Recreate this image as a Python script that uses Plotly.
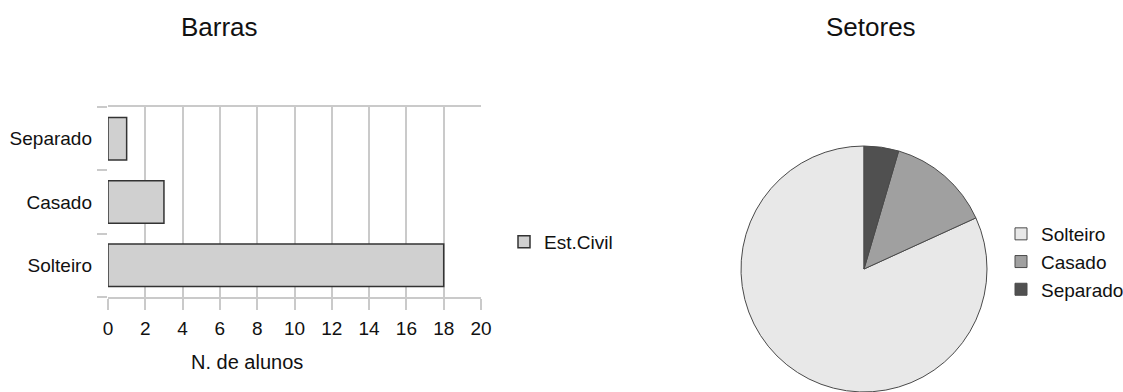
import plotly.graph_objects as go

# Estado civil dos alunos
categorias = ["Solteiro", "Casado", "Separado"]
alunos = [18, 3, 1]
x_ticks = list(range(0, 21, 2))
cores_setores = ["#e8e8e8", "#a0a0a0", "#505050"]

W, H = 1123, 392


def dom_x(left, right):
    return [left / W, right / W]


def dom_y(top, bottom):
    return [1 - bottom / H, 1 - top / H]


FONT = "Liberation Sans, Arial, sans-serif"
GRID = "#cacaca"

# Plotly lays counterclockwise pies out so that the first slice ends at the
# rotation angle; rotating by the share of the remaining slices makes the
# first slice (Solteiro) start at 12 o'clock instead.
total = sum(alunos)
rotacao = 360 * (total - alunos[0]) / total

fig = go.Figure()

fig.add_trace(go.Bar(
    y=categorias, x=alunos, orientation="h", name="Est.Civil",
    width=0.67, showlegend=True, legend="legend",
    marker=dict(color="#d0d0d0", line=dict(color="#333333", width=1.5)),
    xaxis="x", yaxis="y",
))

fig.add_trace(go.Pie(
    labels=categorias, values=alunos, sort=False,
    direction="counterclockwise", rotation=rotacao,
    textinfo="none", legend="legend2",
    marker=dict(colors=cores_setores, line=dict(color="#4a4a4a", width=1)),
    domain=dict(x=dom_x(864 - 124, 864 + 124), y=dom_y(146, 392)),
))

fig.update_layout(
    width=W, height=H,
    margin=dict(l=0, r=0, t=0, b=0, autoexpand=False),
    paper_bgcolor="white", plot_bgcolor="white",
    font=dict(family=FONT, size=19, color="#111111"),
    xaxis=dict(
        domain=dom_x(108, 481), range=[0, 20], automargin=False,
        tickvals=x_ticks, ticktext=[str(v) for v in x_ticks],
        showgrid=True, gridcolor=GRID, gridwidth=1.5,
        ticks="outside", ticklen=11, tickcolor=GRID, tickwidth=1.5,
        showline=True, linecolor=GRID, linewidth=1.5, mirror=True,
        zeroline=False, tickfont=dict(size=19), ticklabelstandoff=2,
    ),
    yaxis=dict(
        domain=dom_y(107, 297), range=[-0.5, 2.5], automargin=False,
        type="category", categoryorder="array", categoryarray=categorias,
        tickson="boundaries", ticks="outside", ticklen=10,
        tickcolor=GRID, tickwidth=1.5,
        showgrid=False, showline=False, zeroline=False,
        tickfont=dict(size=19), ticklabelstandoff=15,
    ),
    legend=dict(
        x=504 / W, y=1 - 242 / H, xanchor="left", yanchor="middle",
        font=dict(size=19), bgcolor="rgba(0,0,0,0)",
    ),
    legend2=dict(
        x=1001 / W, y=1 - 262 / H, xanchor="left", yanchor="middle",
        font=dict(size=19), bgcolor="rgba(0,0,0,0)",
    ),
    annotations=[
        dict(text="Barras", x=219 / W, y=1 - 27 / H, xref="paper", yref="paper",
             showarrow=False, font=dict(size=26), xanchor="center", yanchor="middle"),
        dict(text="Setores", x=871 / W, y=1 - 27 / H, xref="paper", yref="paper",
             showarrow=False, font=dict(size=26), xanchor="center", yanchor="middle"),
        dict(text="N. de alunos", x=247 / W, y=1 - 362 / H, xref="paper", yref="paper",
             showarrow=False, font=dict(size=20), xanchor="center", yanchor="middle"),
    ],
)

fig.write_html("out.html")
